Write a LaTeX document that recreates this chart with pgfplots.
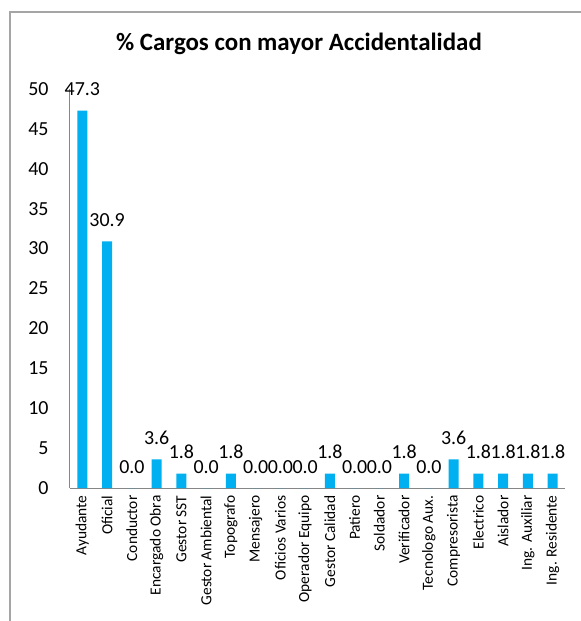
\documentclass[border=0pt]{standalone}
\usepackage{fontspec}
\setmainfont{Carlito}
\usepackage{pgfplots}
\pgfplotsset{compat=1.18}
\definecolor{barblue}{RGB}{0,176,240}
\definecolor{axisgray}{RGB}{134,134,134}
\definecolor{framegray}{RGB}{165,165,165}
\begin{document}
\begin{tikzpicture}
\useasboundingbox (-70bp,-133bp) rectangle (511bp,488bp);
\draw[framegray, line width=1.2bp] (-60bp,-140bp) -- (-60bp,476bp) -- (520bp,476bp);
\begin{axis}[
  at={(0,0)}, anchor=south west,
  scale only axis,
  width=495bp, height=399bp,
  ybar, bar width=10bp,
  xmin=-0.5, xmax=19.5,
  ymin=0, ymax=50,
  ytick={0,5,...,50},
  xtick={0,...,19},
  xticklabels={Ayudante, Oficial, Conductor, Encargado Obra, Gestor SST, Gestor Ambiental, Topografo, Mensajero, Oficios Varios, Operador Equipo, Gestor Calidad, Patiero, Soldador, Verificador, Tecnologo Aux., Compresorista, Electrico, Aislador, Ing. Auxiliar, Ing. Residente},
  axis x line=bottom, axis y line=left,
  axis line style={axisgray, line width=1bp, -},
  major tick length=0pt,
  /pgf/number format/assume math mode=true,
  y tick label style={font=\fontsize{20}{24}\selectfont, anchor=east, xshift=-18bp},
  x tick label style={font=\fontsize{15.5}{18}\selectfont, rotate=90, anchor=east, xshift=-4bp},
  nodes near coords,
  nodes near coords style={font=\fontsize{20}{24}\selectfont, black, yshift=11bp, /pgf/number format/fixed, /pgf/number format/precision=1, /pgf/number format/fixed zerofill, /pgf/number format/assume math mode=true},
]
\addplot[fill=barblue, draw=none] coordinates {
  (0,47.3) (1,30.9) (2,0.0) (3,3.6) (4,1.8) (5,0.0) (6,1.8) (7,0.0) (8,0.0) (9,0.0)
  (10,1.8) (11,0.0) (12,0.0) (13,1.8) (14,0.0) (15,3.6) (16,1.8) (17,1.8) (18,1.8) (19,1.8)
};
\end{axis}
\node[font=\bfseries\fontsize{25}{30}\selectfont] at (229bp,444bp) {\% Cargos con mayor Accidentalidad};
\end{tikzpicture}
\end{document}
